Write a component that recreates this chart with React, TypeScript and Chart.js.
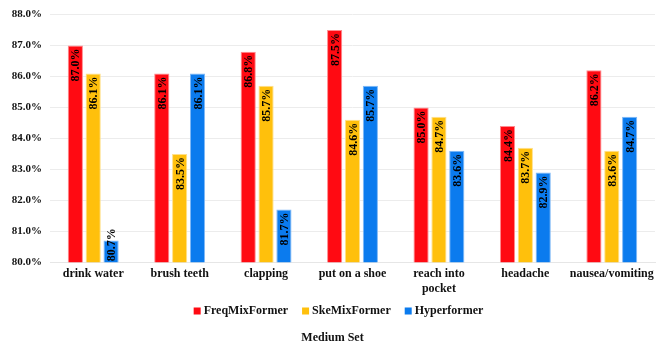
import React, { useEffect, useRef } from "react";
import { Chart, registerables } from "chart.js";

Chart.register(...registerables);

const categories: (string | string[])[] = [
  "drink water",
  "brush teeth",
  "clapping",
  "put on a shoe",
  ["reach into", "pocket"],
  "headache",
  "nausea/vomiting",
];

const freqMixFormer = [87.0, 86.1, 86.8, 87.5, 85.0, 84.4, 86.2];
const skeMixFormer = [86.1, 83.5, 85.7, 84.6, 84.7, 83.7, 83.6];
const hyperformer = [80.7, 86.1, 81.7, 85.7, 83.6, 82.9, 84.7];

const yTicks = [80, 81, 82, 83, 84, 85, 86, 87, 88];

const chartTitle = "Medium Set";

const SERIF = "'Liberation Serif', 'Times New Roman', serif";

// Rotated value labels drawn inside the top end of each bar
const barValueLabels = {
  id: "barValueLabels",
  afterDatasetsDraw(chart: any) {
    const ctx = chart.ctx as CanvasRenderingContext2D;
    const bottom = chart.chartArea.bottom;
    ctx.save();
    ctx.font = `bold 12px ${SERIF}`;
    ctx.fillStyle = "#000";
    ctx.textBaseline = "middle";
    chart.data.datasets.forEach((ds: any, di: number) => {
      const meta = chart.getDatasetMeta(di);
      meta.data.forEach((bar: any, i: number) => {
        const text = `${ds.data[i].toFixed(1)}%`;
        const w = ctx.measureText(text).width;
        const base = Math.min(bar.base, bottom);
        const h = base - bar.y;
        ctx.save();
        if (w + 6 <= h) {
          ctx.translate(bar.x, bar.y);
          ctx.rotate(-Math.PI / 2);
          ctx.textAlign = "right";
          ctx.fillText(text, -3, 1);
        } else {
          // too short: start the label at the bar's base and let it run upward
          ctx.translate(bar.x, base);
          ctx.rotate(-Math.PI / 2);
          ctx.textAlign = "left";
          ctx.fillText(text, 1, 1);
        }
        ctx.restore();
      });
    });
    ctx.restore();
  },
};

// Legend row and caption below the category axis
const legendAndCaption = {
  id: "legendAndCaption",
  afterDraw(chart: any) {
    const ctx = chart.ctx as CanvasRenderingContext2D;
    const xScale = chart.scales.x;
    ctx.save();
    ctx.font = `bold 12px ${SERIF}`;
    ctx.fillStyle = "#111";
    ctx.textBaseline = "middle";
    const box = 7;
    const boxGap = 3;
    const itemGap = 14;
    const items = chart.data.datasets.map((ds: any) => ({
      label: ds.label as string,
      color: ds.backgroundColor as string,
      w: ctx.measureText(ds.label).width,
    }));
    const total =
      items.reduce((s: number, it: any) => s + box + boxGap + it.w, 0) +
      itemGap * (items.length - 1);
    let x = chart.width / 2 + 6 - total / 2;
    const y = xScale.bottom + 10;
    items.forEach((it: any) => {
      ctx.fillStyle = it.color;
      ctx.fillRect(x, y - box / 2, box, box);
      x += box + boxGap;
      ctx.fillStyle = "#111";
      ctx.textAlign = "left";
      ctx.fillText(it.label, x, y);
      x += it.w + itemGap;
    });
    ctx.textAlign = "center";
    ctx.fillText(chartTitle, chart.width / 2, y + 27);
    ctx.restore();
  },
};

export default function App() {
  const canvasRef = useRef<HTMLCanvasElement | null>(null);

  useEffect(() => {
    if (!canvasRef.current) return;
    const chart = new Chart(canvasRef.current, {
      type: "bar",
      data: {
        labels: categories,
        datasets: [
          {
            label: "FreqMixFormer",
            data: freqMixFormer,
            backgroundColor: "#FF0A12",
            borderColor: "#FF8A8E",
            borderWidth: 1,
          },
          {
            label: "SkeMixFormer",
            data: skeMixFormer,
            backgroundColor: "#FFC00C",
            borderColor: "#FFE08A",
            borderWidth: 1,
          },
          {
            label: "Hyperformer",
            data: hyperformer,
            backgroundColor: "#0B7BEE",
            borderColor: "#7FB8F6",
            borderWidth: 1,
          },
        ],
      },
      options: {
        animation: false,
        responsive: true,
        maintainAspectRatio: false,
        datasets: {
          bar: {
            categoryPercentage: 0.62,
            barPercentage: 0.85,
          },
        },
        layout: { padding: { top: 14, right: 10, left: 0, bottom: 42 } },
        scales: {
          x: {
            grid: { display: false, drawTicks: false },
            border: { display: true, color: "#E6E6E6" },
            ticks: {
              color: "#111",
              font: { family: SERIF, size: 12, weight: "bold" },
              padding: 5,
              maxRotation: 0,
              autoSkip: false,
            },
          },
          y: {
            min: 80,
            max: 88,
            afterFit(scale: any) {
              scale.width = 50;
            },
            afterBuildTicks(scale: any) {
              scale.ticks = yTicks.map((v) => ({ value: v }));
            },
            grid: { color: "#ECECEC", drawTicks: false },
            border: { display: false },
            ticks: {
              color: "#111",
              font: { family: SERIF, size: 11, weight: "bold" },
              padding: 8,
              callback: (v: any) => `${Number(v).toFixed(1)}%`,
            },
          },
        },
        plugins: {
          legend: { display: false },
          title: { display: false },
          tooltip: { enabled: false },
        },
      },
      plugins: [barValueLabels, legendAndCaption],
    });
    return () => chart.destroy();
  }, []);

  return (
    <div
      style={{
        position: "fixed",
        left: 0,
        top: 0,
        width: 665,
        height: 343,
        background: "#fff",
      }}
    >
      <canvas ref={canvasRef} />
    </div>
  );
}
